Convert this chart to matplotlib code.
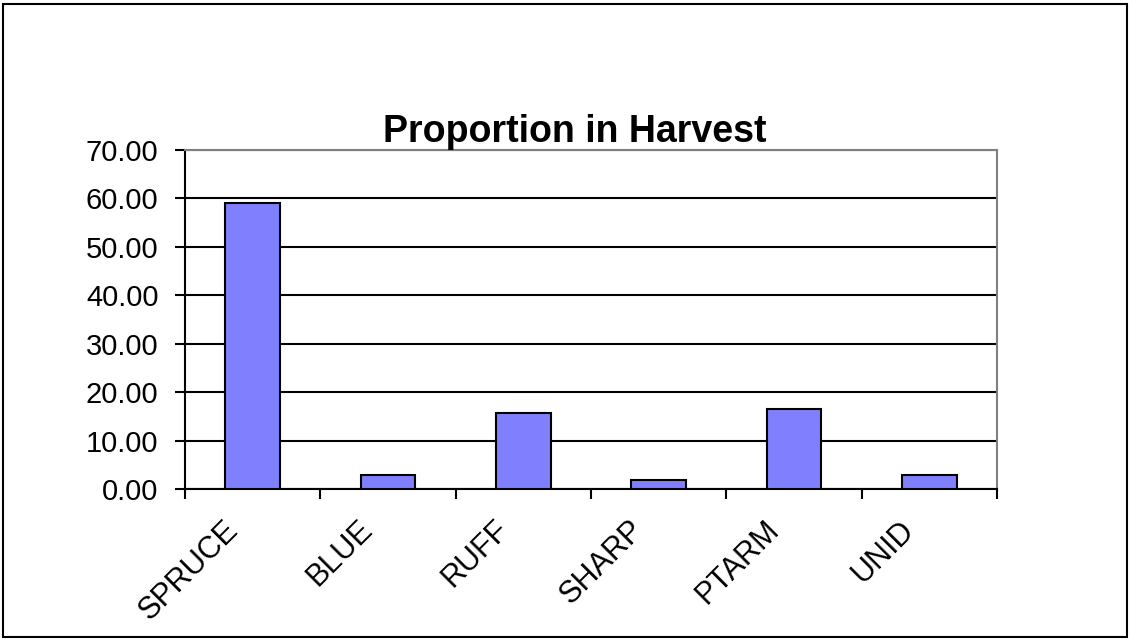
import numpy as np
import matplotlib.pyplot as plt
from matplotlib.patches import Rectangle
from matplotlib.transforms import ScaledTranslation

# species and their share of the harvest
species = ["SPRUCE", "BLUE", "RUFF", "SHARP", "PTARM", "UNID"]
proportion = [59.0, 2.9, 15.6, 1.9, 16.6, 2.9]
yticks = [0, 10, 20, 30, 40, 50, 60, 70]

plt.rcParams['font.family'] = ['Liberation Sans', 'DejaVu Sans']

fig = plt.figure(figsize=(11.3, 6.4), dpi=100)
ax = fig.add_axes([185 / 1130, 1 - 489 / 640, (997 - 185) / 1130, (489 - 150) / 640])

x = np.arange(len(species))
ax.bar(x, proportion, width=0.405, color="#8080FF", edgecolor="black", linewidth=1.5, zorder=3)

ax.set_xlim(-0.5, len(species) - 0.5)
ax.set_ylim(0, 70)
ax.set_yticks(yticks)
ax.set_yticklabels(["%.2f" % v for v in yticks])
ax.yaxis.grid(True, color="black", linewidth=1.5, zorder=1)
ax.set_axisbelow(True)

# category labels at centres, tick marks between categories
ax.set_xticks(x)
ax.set_xticklabels(species, rotation=45, ha="right", rotation_mode="anchor")
ax.set_xticks(np.arange(len(species) + 1) - 0.5, minor=True)
ax.tick_params(axis="x", which="major", length=0, pad=20, labelsize=22)
ax.tick_params(axis="x", which="minor", length=7, width=1.5, direction="out")
ax.tick_params(axis="y", length=7, width=1.5, direction="out", pad=12, labelsize=21)
shift = ScaledTranslation(-0.30, 0.02, fig.dpi_scale_trans)
for lab in ax.get_xticklabels():
    lab.set_transform(lab.get_transform() + shift)

for s in ["left", "bottom"]:
    ax.spines[s].set_color("black")
    ax.spines[s].set_linewidth(1.5)
for s in ["top", "right"]:
    ax.spines[s].set_color("#808080")
    ax.spines[s].set_linewidth(1.5)

fig.text(575 / 1130, 1 - 142 / 640, "Proportion in Harvest", ha="center", va="baseline",
         fontsize=27, fontweight="bold")

# outer chart border
fig.patches.append(Rectangle((3 / 1130, 3 / 640), 1124 / 1130, 633 / 640, transform=fig.transFigure,
                             fill=False, edgecolor="black", linewidth=1.5))

fig.savefig("out.png", dpi=100)
